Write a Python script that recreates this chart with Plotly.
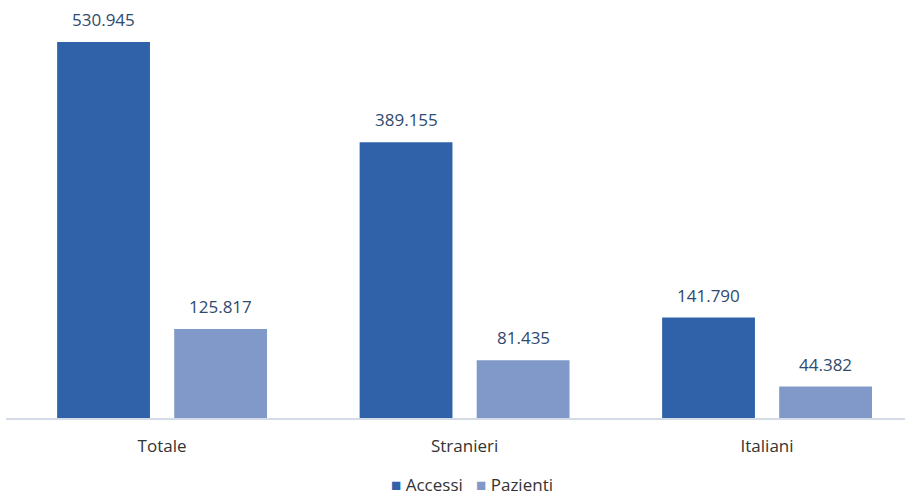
import plotly.graph_objects as go

categories = ["Totale", "Stranieri", "Italiani"]
accessi = [530945, 389155, 141790]
pazienti = [125817, 81435, 44382]
series_names = ["Accessi", "Pazienti"]

col_acc = "#2F62A8"
col_paz = "#8099C9"
label_col = "#2F4A6E"

def fmt(v):
    return f"{v:,}".replace(",", ".")

fig = go.Figure()
fig.add_trace(go.Bar(name=series_names[0], x=categories, y=accessi,
                     marker=dict(color=col_acc, line=dict(width=0))))
fig.add_trace(go.Bar(name=series_names[1], x=categories, y=pazienti,
                     marker=dict(color=col_paz, line=dict(width=0))))

bargap = 0.226
bargroupgap = 0.207
slot = (1 - bargap) / 2
annotations = []
for i, cat in enumerate(categories):
    for vals, off in ((accessi, -slot / 2), (pazienti, slot / 2)):
        annotations.append(dict(x=i + off, y=vals[i], xref="x", yref="y",
                                text=fmt(vals[i]), showarrow=False,
                                yanchor="bottom", yshift=9,
                                font=dict(size=17, color=label_col)))

legend_text = (f"<span style='color:{col_acc}'>■</span> {series_names[0]}   "
               f"<span style='color:{col_paz}'>■</span> {series_names[1]}")
annotations.append(dict(x=0.518, y=-0.163, xref="paper", yref="paper", text=legend_text,
                        showarrow=False, xanchor="center", yanchor="middle",
                        font=dict(size=17, color="#333333")))

fig.update_layout(
    width=913, height=496,
    margin=dict(l=6, r=8, t=10, b=78, autoexpand=False),
    paper_bgcolor="white", plot_bgcolor="white",
    barmode="group", bargap=bargap, bargroupgap=bargroupgap,
    font=dict(family="Open Sans, sans-serif", size=17, color="#333333"),
    showlegend=False,
    annotations=annotations,
    xaxis=dict(range=[-0.516, 2.456], showline=True, linecolor="#D3DBE6", linewidth=1.5,
               ticks="outside", ticklen=12, tickcolor="rgba(0,0,0,0)",
               tickfont=dict(size=17, color="#333333"), showgrid=False, zeroline=False),
    yaxis=dict(range=[0, 576000], visible=False, showgrid=False, zeroline=False),
)

fig.write_html("out.html", config={"displayModeBar": False},
               post_script="document.body.style.margin='0';")
